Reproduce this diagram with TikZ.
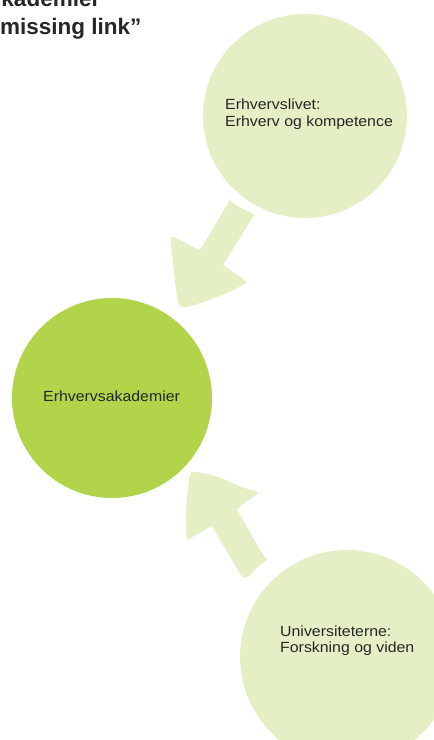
\documentclass[tikz,border=0pt]{standalone}
\usepackage{fontspec}
\setmainfont{Liberation Sans}
\newfontfamily\labfont[FakeStretch=1.08]{Liberation Sans}
\definecolor{lightgreen}{RGB}{228,239,197}
\definecolor{midgreen}{RGB}{178,212,75}
\definecolor{txt}{RGB}{38,38,38}
\begin{document}
\begin{tikzpicture}[x=1pt,y=1pt,
  bubble/.style={circle,inner sep=0pt,draw=none},
  lab/.style={inner sep=0pt,text=txt,align=left,font=\labfont\fontsize{14.7}{16.7}\selectfont},
  ttl/.style={inner sep=0pt,text=txt,font=\bfseries\fontsize{22.5}{27.6}\selectfont},
  flow/.style={fill=lightgreen,draw=none}]
\useasboundingbox (0,0) rectangle (434,-740);
\clip (0,0) rectangle (434,-740);
% circles
\node[bubble,fill=lightgreen,minimum size=204pt] (biz) at (305,-116) {};
\node[bubble,fill=midgreen,minimum size=200pt] (acad) at (112,-398) {};
\node[bubble,fill=lightgreen,minimum size=214pt] (uni) at (347,-657) {};
% arrows
\fill[flow] (230,-200) .. controls (236,-207) and (246,-210) .. (250,-212)
  .. controls (254,-214) and (255,-215) .. (253,-217)
  -- (223,-265)
  .. controls (230,-270) and (240,-276) .. (247,-282)
  .. controls (235,-291) and (210,-300) .. (188,-307)
  .. controls (181,-309) and (178,-305) .. (177,-298)
  .. controls (175,-280) and (172,-255) .. (171,-243)
  .. controls (170,-239) and (171,-236) .. (174,-237)
  .. controls (182,-241) and (192,-247) .. (200,-250)
  -- cycle;
\fill[flow] (192,-472) .. controls (200,-472) and (215,-474) .. (237,-485)
  .. controls (248,-490) and (256,-490) .. (258,-493)
  .. controls (252,-499) and (242,-503) .. (237,-510)
  .. controls (248,-528) and (258,-548) .. (267,-560)
  .. controls (262,-563) and (256,-568) .. (250,-575)
  .. controls (247,-578) and (244,-578) .. (242,-577)
  -- (212,-526)
  .. controls (204,-530) and (195,-536) .. (187,-540)
  .. controls (185,-525) and (186,-505) .. (188,-490)
  .. controls (189,-480) and (189,-474) .. (192,-472)
  -- cycle;
% labels (base anchor = baseline of the last line)
\node[lab,anchor=base west] (bizt) at (225,-126) {Erhvervslivet:\\Erhverv og kompetence};
\node[lab,anchor=base west] (acadt) at (43,-401.7) {Erhvervsakademier};
\node[lab,anchor=base west] (unit) at (280,-652.7) {Universiteterne:\\Forskning og viden};
% title
\node[ttl,anchor=base east] (t1) at (100.5,-6.5) {kademier};
\node[ttl,anchor=base west] (t2) at (0,-34.3) {missing link”};
\end{tikzpicture}
\end{document}
